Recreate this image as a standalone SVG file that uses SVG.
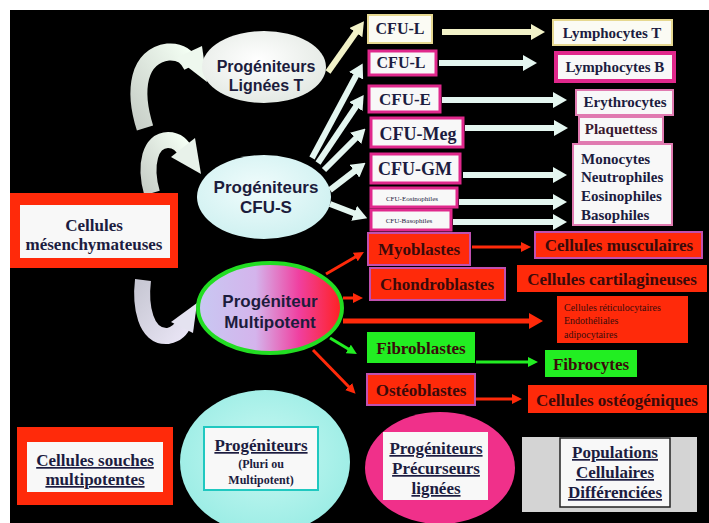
<svg xmlns="http://www.w3.org/2000/svg" width="709" height="523" viewBox="0 0 709 523">
<style>
.sans{font-family:"Liberation Sans",Arial,sans-serif;font-weight:bold;fill:#1c1c3c;text-anchor:middle}
.serif{font-family:"Liberation Serif","Times New Roman",serif;font-weight:bold;fill:#1c1c40;text-anchor:middle}
.dark{fill:#3a0a0a}
.l{text-anchor:start}
.n{font-weight:normal}
.u{text-decoration:underline}
.wbox{fill:#f8f8f8}
.pinkb{stroke:#e0288c;stroke-width:3}
.redbox{fill:#ff2a0a;stroke:#c050b0;stroke-width:2}
.redplain{fill:#ff2a0a}
.greenbox{fill:#22ee22}
.pale{stroke:#e4f6f0;stroke-width:6;fill:none}
.paley{stroke:#f2f2c8;stroke-width:6;fill:none}
.red{stroke:#ff2a0a;stroke-width:3;fill:none}
.green{stroke:#22ee22;stroke-width:3;fill:none}
</style>
<defs>
<marker id="hp" viewBox="0 0 14 16" refX="2" refY="8" markerWidth="14" markerHeight="16" markerUnits="userSpaceOnUse" orient="auto"><path d="M0,0 L14,8 L0,16 z" fill="#e4f6f0"/></marker>
<marker id="hy" viewBox="0 0 14 16" refX="2" refY="8" markerWidth="14" markerHeight="16" markerUnits="userSpaceOnUse" orient="auto"><path d="M0,0 L14,8 L0,16 z" fill="#f2f2c8"/></marker>
<marker id="hr" viewBox="0 0 10 10" refX="2" refY="5" markerWidth="10" markerHeight="10" markerUnits="userSpaceOnUse" orient="auto"><path d="M0,0 L10,5 L0,10 z" fill="#ff2a0a"/></marker>
<marker id="hrb" viewBox="0 0 14 16" refX="2" refY="8" markerWidth="14" markerHeight="16" markerUnits="userSpaceOnUse" orient="auto"><path d="M0,0 L14,8 L0,16 z" fill="#ff2a0a"/></marker>
<marker id="hg" viewBox="0 0 10 10" refX="2" refY="5" markerWidth="10" markerHeight="10" markerUnits="userSpaceOnUse" orient="auto"><path d="M0,0 L10,5 L0,10 z" fill="#22ee22"/></marker>
<radialGradient id="gT" cx="0.45" cy="0.4" r="0.65"><stop offset="0" stop-color="#ffffff"/><stop offset="1" stop-color="#e2e8e2"/></radialGradient>
<radialGradient id="gS" cx="0.45" cy="0.4" r="0.65"><stop offset="0" stop-color="#f0fcfc"/><stop offset="1" stop-color="#cdf0f0"/></radialGradient>
<linearGradient id="gM" x1="0" y1="0" x2="1" y2="0"><stop offset="0" stop-color="#c8c8f2"/><stop offset="0.4" stop-color="#d4b4ec"/><stop offset="0.7" stop-color="#f040a0"/><stop offset="1" stop-color="#ff2020"/></linearGradient>
<radialGradient id="gC" cx="0.5" cy="0.45" r="0.6"><stop offset="0" stop-color="#c8f8f2"/><stop offset="1" stop-color="#98ece4"/></radialGradient>
<linearGradient id="gA1" x1="0" y1="1" x2="1" y2="0"><stop offset="0" stop-color="#c8cfc8"/><stop offset="1" stop-color="#f4fff4"/></linearGradient>
<linearGradient id="gA3" x1="0" y1="0" x2="1" y2="1"><stop offset="0" stop-color="#c8c8d4"/><stop offset="1" stop-color="#e8e4f4"/></linearGradient>
</defs>
<rect x="0" y="0" width="709" height="523" fill="#ffffff"/>
<rect x="10" y="10" width="699" height="513" fill="#000000"/>

<g id="connectors">
<path d="M145,128 C133,90 138,56 168,52 C182,51 188,58 192,66" stroke="url(#gA1)" stroke-width="17" fill="none"/>
<polygon points="176,58 207,82 202,46" fill="#eef8ee"/>
<path d="M152,193 C144,165 150,140 168,140 C178,140 182,146 186,152" stroke="url(#gA1)" stroke-width="16" fill="none"/>
<polygon points="171,157 201,174 195,138" fill="#e8f2ea"/>
<path d="M143,280 C140,305 145,338 168,336 C178,334 182,328 184,322" stroke="url(#gA3)" stroke-width="16" fill="none"/>
<polygon points="171,322 197,303 193,333" fill="#e4e2f0"/>
<line x1="328" y1="72" x2="357" y2="31" class="paley" marker-end="url(#hy)"/>
<line x1="312" y1="158" x2="357" y2="74" class="pale" marker-end="url(#hp)"/>
<line x1="318" y1="163" x2="357" y2="105" class="pale" marker-end="url(#hp)"/>
<line x1="324" y1="170" x2="357" y2="137" class="pale" marker-end="url(#hp)"/>
<line x1="330" y1="190" x2="356" y2="170" class="pale" marker-end="url(#hp)"/>
<line x1="330" y1="204" x2="356" y2="214" class="pale" marker-end="url(#hp)"/>
<line x1="442" y1="32" x2="533" y2="32" class="paley" marker-end="url(#hy)"/>
<line x1="439" y1="63" x2="525" y2="63" class="pale" marker-end="url(#hp)"/>
<line x1="442" y1="100" x2="555" y2="100" class="pale" marker-end="url(#hp)"/>
<line x1="465" y1="128" x2="556" y2="128" class="pale" marker-end="url(#hp)"/>
<line x1="463" y1="175" x2="555" y2="175" class="pale" marker-end="url(#hp)"/>
<line x1="459" y1="202" x2="555" y2="202" class="pale" marker-end="url(#hp)"/>
<line x1="453" y1="222" x2="555" y2="222" class="pale" marker-end="url(#hp)"/>
<line x1="326" y1="274" x2="357" y2="256" class="red" marker-end="url(#hr)"/>
<line x1="343" y1="298" x2="355" y2="298" class="red" marker-end="url(#hr)"/>
<line x1="343" y1="321" x2="531" y2="321" stroke="#ff2a0a" stroke-width="5" marker-end="url(#hrb)"/>
<line x1="330" y1="338" x2="350" y2="350" class="green" marker-end="url(#hg)"/>
<line x1="313" y1="350" x2="350" y2="388" class="red" marker-end="url(#hr)"/>
<line x1="472" y1="247" x2="523" y2="247" class="red" marker-end="url(#hr)"/>
<line x1="476" y1="362" x2="530" y2="362" class="green" marker-end="url(#hg)"/>
<line x1="476" y1="399" x2="514" y2="399" class="red" marker-end="url(#hr)"/>
</g>

<g id="prog-lignees-t">
<ellipse cx="264" cy="67" rx="62" ry="36" fill="url(#gT)"/>
<text class="sans" x="266" y="72" font-size="16">Progéniteurs</text>
<text class="sans" x="266" y="91" font-size="16">Lignées T</text>
</g>
<g id="prog-cfu-s">
<ellipse cx="264" cy="197" rx="67" ry="42" fill="url(#gS)"/>
<text class="sans" x="266" y="193" font-size="17">Progéniteurs</text>
<text class="sans" x="266" y="213" font-size="17">CFU-S</text>
</g>
<g id="cellules-mesenchymateuses">
<rect x="10" y="193" width="168" height="75" fill="#ff2a0a"/>
<rect x="20" y="205" width="150" height="53" class="wbox"/>
<text class="serif" x="94" y="231" font-size="17">Cellules</text>
<text class="serif" x="94" y="250" font-size="17">mésenchymateuses</text>
</g>
<g id="prog-multipotent">
<ellipse cx="270" cy="308" rx="72" ry="45" fill="url(#gM)" stroke="#22dd22" stroke-width="4"/>
<text class="sans" x="270" y="307" font-size="17">Progéniteur</text>
<text class="sans" x="270" y="328" font-size="17">Multipotent</text>
</g>

<g id="cfu-l1"><rect x="368" y="15" width="64" height="28" fill="#fbfbf4" stroke="#e6d890" stroke-width="2"/><text class="serif" x="400" y="34" font-size="16">CFU-L</text></g>
<g id="cfu-l2"><rect x="369" y="51" width="67" height="24" class="wbox pinkb"/><text class="serif" x="401" y="68" font-size="16">CFU-L</text></g>
<g id="cfu-e"><rect x="369" y="86" width="71" height="26" class="wbox pinkb"/><text class="serif" x="405" y="105" font-size="17">CFU-E</text></g>
<g id="cfu-meg"><rect x="371" y="118" width="92" height="29" class="wbox pinkb"/><text class="serif" x="418" y="140" font-size="18">CFU-Meg</text></g>
<g id="cfu-gm"><rect x="371" y="154" width="89" height="29" class="wbox pinkb"/><text class="serif" x="415" y="175" font-size="18">CFU-GM</text></g>
<g id="cfu-eos"><rect x="371" y="188" width="86" height="19" class="wbox pinkb"/><text class="serif n" x="412" y="201" font-size="7">CFU-Eosinophiles</text></g>
<g id="cfu-baso"><rect x="371" y="210" width="80" height="20" class="wbox pinkb"/><text class="serif n" x="409" y="223" font-size="7">CFU-Basophiles</text></g>

<g id="lympho-t"><rect x="553" y="20" width="119" height="25" fill="#fbfbf4" stroke="#e6d890" stroke-width="2"/><text class="serif" x="612" y="38" font-size="15">Lymphocytes T</text></g>
<g id="lympho-b"><rect x="556" y="53" width="118" height="28" class="wbox" stroke="#e0288c" stroke-width="4"/><text class="serif" x="615" y="72" font-size="15">Lymphocytes B</text></g>
<g id="erythro"><rect x="576" y="90" width="97" height="25" class="wbox" stroke="#e07ab0" stroke-width="2"/><text class="serif" x="625" y="107" font-size="15">Erythrocytes</text></g>
<g id="plaq"><rect x="579" y="117" width="84" height="25" class="wbox" stroke="#e07ab0" stroke-width="2"/><text class="serif" x="621" y="134" font-size="15" style="fill:#3a1a30">Plaquettess</text></g>
<g id="monocytes"><rect x="573" y="144" width="99" height="81" class="wbox" stroke="#e07ab0" stroke-width="2"/>
<text class="serif l" x="581" y="164" font-size="15">Monocytes</text>
<text class="serif l" x="581" y="182" font-size="15">Neutrophiles</text>
<text class="serif l" x="581" y="201" font-size="15">Eosinophiles</text>
<text class="serif l" x="581" y="220" font-size="15">Basophiles</text></g>

<g id="myoblastes"><rect x="368" y="233" width="102" height="32" class="redbox"/><text class="serif dark" x="419" y="255" font-size="17">Myoblastes</text></g>
<g id="chondroblastes"><rect x="370" y="268" width="135" height="32" class="redbox"/><text class="serif dark" x="437" y="290" font-size="17">Chondroblastes</text></g>
<g id="fibroblastes"><rect x="367" y="332" width="108" height="31" class="greenbox"/><text class="serif dark" x="421" y="354" font-size="17">Fibroblastes</text></g>
<g id="osteoblastes"><rect x="367" y="374" width="108" height="31" class="redbox"/><text class="serif dark" x="421" y="396" font-size="17">Ostéoblastes</text></g>
<g id="cell-musculaires"><rect x="535" y="232" width="167" height="26" class="redbox"/><text class="serif dark" x="619" y="251" font-size="17">Cellules musculaires</text></g>
<g id="cell-cartilagineuses"><rect x="517" y="265" width="190" height="27" class="redplain"/><text class="serif dark" x="612" y="285" font-size="17">Cellules cartilagineuses</text></g>
<g id="cell-reticulocytaires"><rect x="557" y="296" width="131" height="47" class="redplain"/>
<text class="serif dark l n" x="564" y="311" font-size="10">Cellules réticulocytaires</text>
<text class="serif dark l n" x="564" y="324" font-size="10">Endothéliales</text>
<text class="serif dark l n" x="564" y="338" font-size="10">adipocytaires</text></g>
<g id="fibrocytes"><rect x="545" y="350" width="92" height="27" class="greenbox"/><text class="serif dark" x="591" y="370" font-size="17">Fibrocytes</text></g>
<g id="cell-osteogeniques"><rect x="528" y="385" width="179" height="28" class="redplain"/><text class="serif dark" x="617" y="406" font-size="17">Cellules ostéogéniques</text></g>

<g id="legend-souches"><rect x="17" y="427" width="156" height="78" fill="#ff2a0a"/><rect x="27" y="442" width="136" height="50" class="wbox"/>
<text class="serif u" x="95" y="466" font-size="17">Cellules souches</text>
<text class="serif u" x="95" y="485" font-size="17">multipotentes</text></g>
<g id="legend-progeniteurs"><ellipse cx="265" cy="462" rx="85" ry="72" fill="url(#gC)"/><rect x="204" y="427" width="114" height="63" class="wbox" stroke="#20c8c0" stroke-width="2"/>
<text class="serif u" x="261" y="451" font-size="17">Progéniteurs</text>
<text class="serif" x="261" y="468" font-size="12">(Pluri ou</text>
<text class="serif" x="261" y="484" font-size="12">Multipotent)</text></g>
<g id="legend-precurseurs"><ellipse cx="440" cy="468" rx="75" ry="56" fill="#f0308a"/><rect x="383" y="432" width="105" height="68" class="wbox"/>
<text class="serif u" x="436" y="454" font-size="17">Progéniteurs</text>
<text class="serif u" x="436" y="474" font-size="17">Précurseurs</text>
<text class="serif u" x="436" y="494" font-size="17">lignées</text></g>
<g id="legend-populations"><rect x="522" y="437" width="175" height="75" fill="#d4d4d4"/><rect x="560" y="438" width="110" height="69" class="wbox" stroke="#222" stroke-width="1.5"/>
<text class="serif u" x="615" y="458" font-size="17">Populations</text>
<text class="serif u" x="615" y="478" font-size="17">Cellulaires</text>
<text class="serif u" x="615" y="498" font-size="17">Différenciées</text></g>
</svg>
